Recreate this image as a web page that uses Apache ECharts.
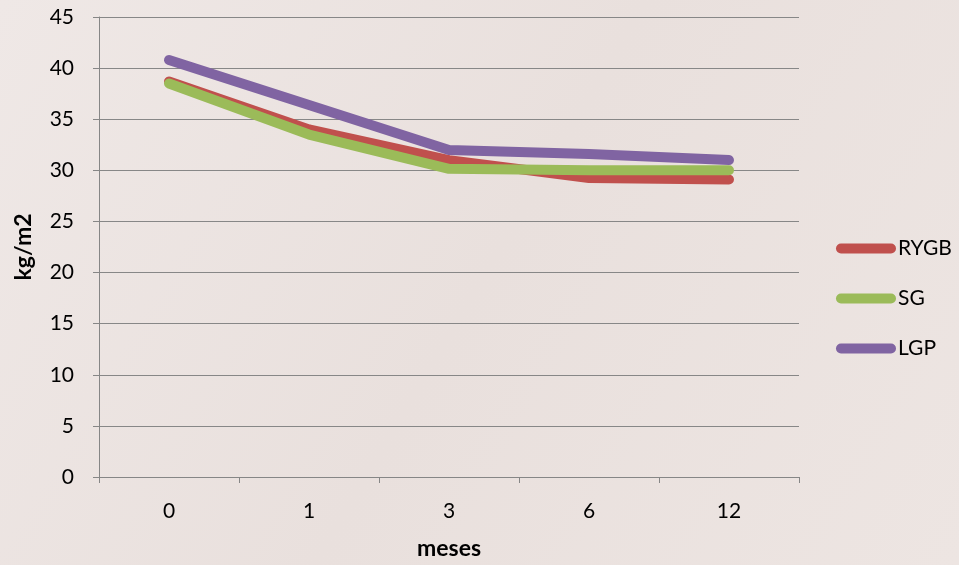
<!DOCTYPE html>
<html>
<head>
<meta charset="utf-8">
<script src="https://cdn.jsdelivr.net/npm/echarts@6/dist/echarts.min.js"></script>
<style>
html,body{margin:0;padding:0;}
#c{width:959px;height:565px;}
</style>
</head>
<body>
<div id="c"></div>
<script>
var categories = ['0', '1', '3', '6', '12'];
var rygb = [38.7, 34.0, 31.0, 29.25, 29.1];
var sg = [38.5, 33.5, 30.15, 30.0, 30.0];
var lgp = [40.8, 36.4, 32.0, 31.6, 31.0];
var seriesNames = ['RYGB', 'SG', 'LGP'];
var colors = ['#C0504D', '#9BBB59', '#8064A2'];
var yTicks = {min: 0, max: 45, interval: 5};

var font = 'Lato, "Open Sans", sans-serif';
var fs = 21;
var nfs = 23;
var chart = echarts.init(document.getElementById('c'));
function mk(name, data, color) {
  return {
    name: name, type: 'line', data: data, symbol: 'none',
    lineStyle: {width: 10, color: color, cap: 'round', join: 'round'},
    itemStyle: {color: color}
  };
}
chart.setOption({
  backgroundColor: {
    type: 'linear', x: 0, y: 0, x2: 1, y2: 1,
    colorStops: [{offset: 0, color: '#EFE8E6'}, {offset: 0.5, color: '#E9E0DD'}, {offset: 1, color: '#EDE5E2'}]
  },
  animation: false,
  grid: {left: 99, right: 160, top: 17, bottom: 87, containLabel: false},
  legend: {
    orient: 'vertical', left: 831, top: 233, itemGap: 50 - fs,
    itemWidth: 60, itemHeight: 10,
    icon: 'path://M5,0 H55 A5,5 0 0 1 55,10 H5 A5,5 0 0 1 5,0 Z',
    textStyle: {color: '#000', fontSize: fs, fontFamily: font, padding: [0, 0, 0, -3]},
    data: seriesNames
  },
  xAxis: {
    type: 'category', data: categories, boundaryGap: true,
    name: 'meses', nameLocation: 'middle', nameGap: 60,
    nameTextStyle: {color: '#000', fontSize: nfs, fontWeight: 'bold', fontFamily: font},
    axisLine: {lineStyle: {color: '#868686', width: 1}},
    axisTick: {show: true, length: 6, lineStyle: {color: '#868686'}, alignWithLabel: false},
    axisLabel: {color: '#000', fontSize: fs, fontFamily: font, margin: 24},
    splitLine: {show: false}
  },
  yAxis: {
    type: 'value', min: yTicks.min, max: yTicks.max, interval: yTicks.interval,
    name: 'kg/m2', nameLocation: 'middle', nameGap: 64, nameRotate: 90,
    nameTextStyle: {color: '#000', fontSize: nfs, fontWeight: 'bold', fontFamily: font},
    axisLine: {show: true, lineStyle: {color: '#868686', width: 1}},
    axisTick: {show: true, length: 6, lineStyle: {color: '#868686'}},
    axisLabel: {color: '#000', fontSize: fs, fontFamily: font, margin: 25},
    splitLine: {show: true, lineStyle: {color: '#878787', width: 1}}
  },
  series: [mk(seriesNames[0], rygb, colors[0]), mk(seriesNames[1], sg, colors[1]), mk(seriesNames[2], lgp, colors[2])]
});
</script>
</body>
</html>
